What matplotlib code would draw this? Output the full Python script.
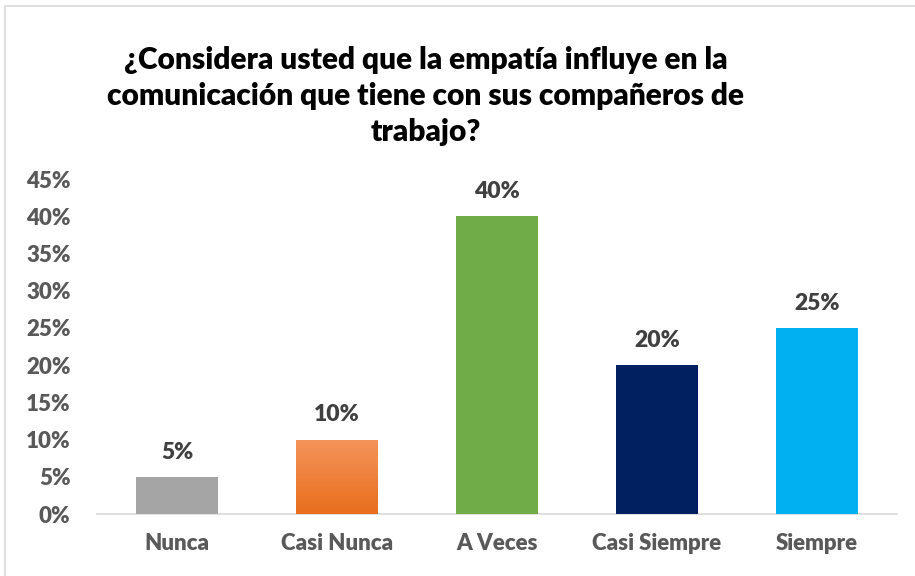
import numpy as np
import matplotlib.pyplot as plt
from matplotlib.patches import Rectangle
from matplotlib.colors import LinearSegmentedColormap

# datos
categorias = ['Nunca', 'Casi Nunca', 'A Veces', 'Casi Siempre', 'Siempre']
valores = [5, 10, 40, 20, 25]
colores = ['#A5A5A5', '#F07D2C', '#70AD47', '#002060', '#00B0F0']
ticks_y = [0, 5, 10, 15, 20, 25, 30, 35, 40, 45]

plt.rcParams['font.family'] = ['Lato', 'DejaVu Sans']

fig = plt.figure(figsize=(9.15, 5.76), dpi=100)
ax = fig.add_axes([0.106, 0.1076, 0.874, 0.5816])

x = np.arange(len(categorias))
bars = ax.bar(x, valores, width=0.51, color=colores, zorder=3)

# degradado en la barra naranja
grad = np.linspace(0, 1, 256).reshape(-1, 1)
cmap = LinearSegmentedColormap.from_list('nar', ['#E96E1C', '#F4945C'])
b = bars[1]
im = ax.imshow(grad, cmap=cmap, origin='lower', aspect='auto', zorder=4,
               extent=[b.get_x(), b.get_x() + b.get_width(), 0, b.get_height()])
im.set_clip_path(b)

for xi, v in zip(x, valores):
    ax.text(xi, v + 1.9, f'{v}%', ha='center', va='bottom', fontsize=16.5,
            fontweight='heavy', color='#404040')

ax.set_xlim(-0.5, len(categorias) - 0.5)
ax.set_ylim(0, 45)
ax.set_yticks(ticks_y)
ax.set_yticklabels([f'{t}%' for t in ticks_y])
ax.set_xticks(x)
ax.set_xticklabels(categorias)
ax.tick_params(axis='both', length=0, labelsize=16, labelcolor='#595959')
for lab in ax.get_xticklabels() + ax.get_yticklabels():
    lab.set_fontweight('heavy')
ax.tick_params(axis='x', pad=14)
ax.tick_params(axis='y', pad=19)

for s in ['top', 'right', 'left']:
    ax.spines[s].set_visible(False)
ax.spines['bottom'].set_color('#D9D9D9')
ax.spines['bottom'].set_linewidth(1.2)

fig.text(0.465, 0.746,
         '¿Considera usted que la empatía influye en la\n'
         'comunicación que tiene con sus compañeros de\n'
         'trabajo?', ha='center', va='bottom', fontsize=21.5,
         fontweight='heavy', color='black', linespacing=1.36)

fig.patches.append(Rectangle((0.006, -0.01), 1.1, 1.0, transform=fig.transFigure,
                             fill=False, edgecolor='#D9D9D9', linewidth=1.2))

fig.savefig('out.png', dpi=100)
